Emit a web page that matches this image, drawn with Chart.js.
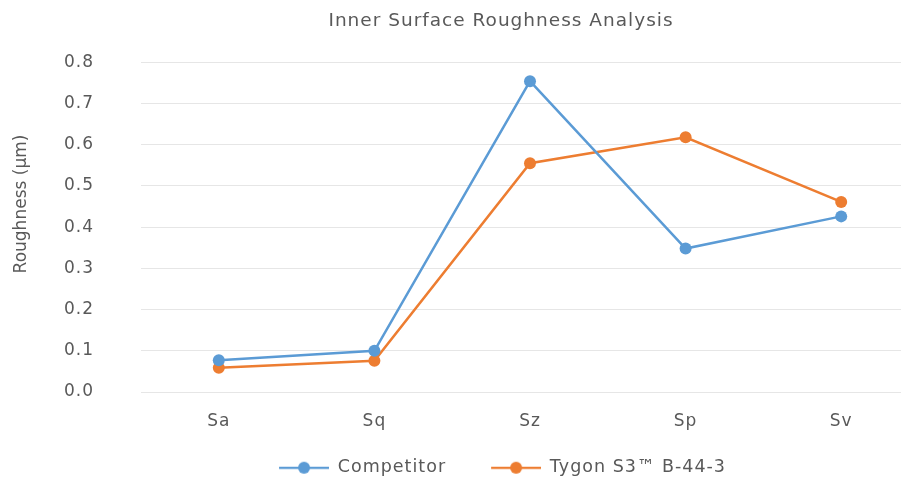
<!DOCTYPE html>
<html>
<head>
<meta charset="utf-8">
<script src="https://cdn.jsdelivr.net/npm/chart.js@4/dist/chart.umd.min.js"></script>
<style>
  html, body { margin: 0; padding: 0; background: #fff; overflow: hidden; width: 901px; height: 481px; }
  canvas { display: block; }
</style>
</head>
<body>
<canvas id="c" width="1002" height="481"></canvas>
<script>
const categories = ['Sa', 'Sq', 'Sz', 'Sp', 'Sv'];
const competitor = [0.077, 0.100, 0.754, 0.348, 0.426];
const tygon = [0.059, 0.076, 0.555, 0.618, 0.461];
const seriesNames = ['Competitor', 'Tygon S3\u2122 B-44-3'];
const yTicks = [0.0, 0.1, 0.2, 0.3, 0.4, 0.5, 0.6, 0.7, 0.8];
const yTitle = 'Roughness (\u00b5m)';

const BLUE = '#5B9BD5';
const ORANGE = '#ED7D31';
const FONT = "'DejaVu Sans', sans-serif";
const GRAY = '#595959';

function legendIcon(color) {
  const cv = document.createElement('canvas');
  cv.width = 69; cv.height = 14;
  const g = cv.getContext('2d');
  g.strokeStyle = color; g.lineWidth = 2.25;
  g.beginPath(); g.moveTo(19, 7); g.lineTo(69, 7); g.stroke();
  g.fillStyle = color;
  g.beginPath(); g.arc(44, 7, 6, 0, Math.PI * 2); g.fill();
  return cv;
}

const spacingPlugin = {
  id: 'spacing',
  beforeUpdate(ch) { ch.ctx.letterSpacing = '1px'; },
  afterLayout(ch) {
    if (ch.legend) { ch.legend.left -= 8; ch.legend.right -= 8; }
  },
  beforeDraw(ch) { ch.ctx.letterSpacing = '1px'; },
  afterDraw(ch) {
    const ctx = ch.ctx;
    ctx.save();
    ctx.letterSpacing = '0px';
    ctx.fillStyle = GRAY;
    ctx.font = "17px " + FONT;
    ctx.textAlign = 'center';
    ctx.textBaseline = 'middle';
    ctx.translate(22, 204);
    ctx.rotate(-Math.PI / 2);
    ctx.fillText(yTitle, 0, 0);
    ctx.restore();
  }
};

const chart = new Chart(document.getElementById('c'), {
  type: 'line',
  plugins: [spacingPlugin],
  data: {
    labels: categories,
    datasets: [
      { label: seriesNames[0], data: competitor, borderColor: BLUE, backgroundColor: BLUE,
        borderWidth: 2.5, pointRadius: 6, pointHoverRadius: 6, pointBorderWidth: 0, tension: 0 },
      { label: seriesNames[1], data: tygon, borderColor: ORANGE, backgroundColor: ORANGE,
        borderWidth: 2.5, pointRadius: 6, pointHoverRadius: 6, pointBorderWidth: 0, tension: 0 }
    ]
  },
  options: {
    responsive: false,
    animation: false,
    devicePixelRatio: 1,
    layout: { padding: { left: 83, right: 83, top: 0, bottom: -5.5 } },
    plugins: {
      tooltip: { enabled: false },
      title: {
        display: true,
        text: 'Inner Surface Roughness Analysis',
        color: GRAY,
        font: { family: FONT, size: 18.5, weight: 'normal' },
        padding: { top: 10, bottom: 30 }
      },
      legend: {
        position: 'bottom',
        labels: {
          color: GRAY,
          font: { family: FONT, size: 17.5 },
          usePointStyle: true,
          pointStyleWidth: 69,
          padding: 26,
          generateLabels: (ch) => ch.data.datasets.map((ds, i) => ({
            text: ds.label,
            fillStyle: ds.borderColor,
            strokeStyle: ds.borderColor,
            fontColor: GRAY,
            pointStyle: legendIcon(ds.borderColor),
            hidden: false,
            datasetIndex: i
          }))
        }
      }
    },
    scales: {
      x: {
        offset: true,
        grid: { display: false, drawTicks: false },
        border: { display: false },
        ticks: { color: GRAY, font: { family: FONT, size: 17 }, padding: 19 },
        afterFit: (s) => { s.height = 41; }
      },
      y: {
        min: 0, max: 0.8,
        afterBuildTicks: (s) => { s.ticks = yTicks.map(v => ({ value: v })); },
        grid: { color: '#E6E6E6', lineWidth: 1, drawTicks: false },
        border: { display: false },
        ticks: { color: GRAY, font: { family: FONT, size: 17 }, padding: -77, mirror: true,
                 callback: (v) => Number(v).toFixed(1) },
        afterFit: (s) => { s.width = 58; }
      }
    }
  }
});
</script>
</body>
</html>
